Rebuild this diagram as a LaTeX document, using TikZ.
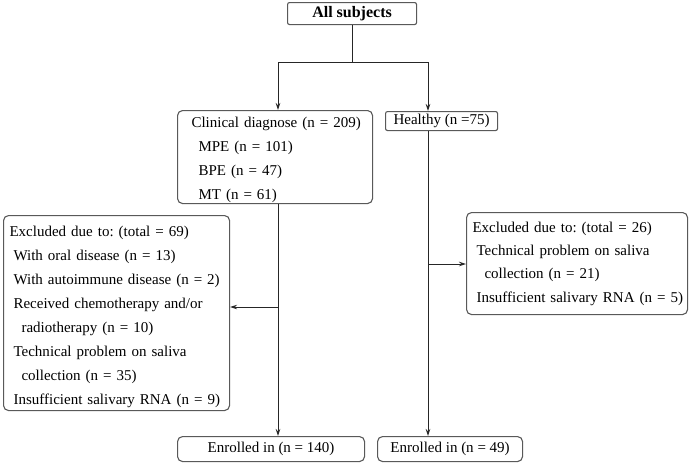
\documentclass[tikz,border=0pt]{standalone}
\usepackage{fontspec}
\setmainfont{Liberation Serif}
\frenchspacing
\usetikzlibrary{arrows.meta}
\begin{document}
\begin{tikzpicture}[x=1pt,y=-1pt,
  box/.style={draw=black!65, line width=1.1pt, rounded corners=5pt, inner sep=0pt,
    font=\rmfamily\fontsize{15}{24}\selectfont},
  tbox/.style={box, align=left, anchor=north west},
  cbox/.style={box, align=center, anchor=north west},
  conn/.style={draw=black!85, line width=0.9pt},
  arr/.style={conn, -{Stealth[length=7pt,width=4.5pt]}}]
\useasboundingbox (0,0) rectangle (692,464);
\node[cbox, rounded corners=2pt, minimum width=129pt, minimum height=22pt, font=\rmfamily\fontsize{16}{16}\selectfont\bfseries] (all) at (287,2) {All subjects};
\node[tbox, minimum width=195pt, minimum height=93pt, text width=193pt] (clin) at (177,110)
  {\hspace*{13pt}\rule{0pt}{17pt}Clinical diagnose (n = 209)\\
   \hspace*{20pt}MPE (n = 101)\\
   \hspace*{20pt}BPE (n = 47)\\
   \hspace*{20pt}MT (n = 61)};
\node[cbox, rounded corners=2pt, minimum width=112pt, minimum height=19pt, font=\rmfamily\fontsize{15}{16}\selectfont] (hel) at (385,111) {Healthy (n =75)};
\node[tbox, minimum width=226pt, minimum height=195pt, text width=224pt] (exL) at (3,215)
  {\hspace*{5pt}\rule{0pt}{19pt}Excluded due to: (total = 69)\\
   \hspace*{9pt}With oral disease (n = 13)\\
   \hspace*{9pt}With autoimmune disease (n = 2)\\
   \hspace*{9pt}Received chemotherapy and/or\\
   \hspace*{17pt}radiotherapy (n = 10)\\
   \hspace*{9pt}Technical problem on saliva\\
   \hspace*{17pt}collection (n = 35)\\
   \hspace*{9pt}Insufficient salivary RNA (n = 9)};
\node[tbox, minimum width=221pt, minimum height=102pt, text width=219pt, font=\rmfamily\fontsize{15}{23.3}\selectfont] (exR) at (466,212)
  {\hspace*{5pt}Excluded due to: (total = 26)\\
   \hspace*{9pt}Technical problem on saliva\\
   \hspace*{17pt}collection (n = 21)\\
   \hspace*{9pt}Insufficient salivary RNA (n = 5)};
\node[cbox, minimum width=187pt, minimum height=25pt, font=\rmfamily\fontsize{15}{16}\selectfont] (en1) at (177,436) {Enrolled in (n = 140)};
\node[cbox, minimum width=145pt, minimum height=25pt, font=\rmfamily\fontsize{15}{16}\selectfont] (en2) at (377,436) {Enrolled in (n = 49)};
\coordinate (jL) at (278,62);
\coordinate (jR) at (428,62);
\coordinate (bL) at (278,307);
\coordinate (bR) at (428,264);
\draw[conn] (all.south) -- (all.south |- jL);
\draw[conn] (jL) -- (jR);
\draw[arr] (jL) -- (jL |- clin.north);
\draw[arr] (jR) -- (jR |- hel.north);
\draw[arr] (clin.south -| jL) -- (jL |- en1.north);
\draw[arr] (bL) -- (bL -| exL.east);
\draw[arr] (hel.south -| jR) -- (jR |- en2.north);
\draw[arr] (bR) -- (bR -| exR.west);
\end{tikzpicture}
\end{document}
